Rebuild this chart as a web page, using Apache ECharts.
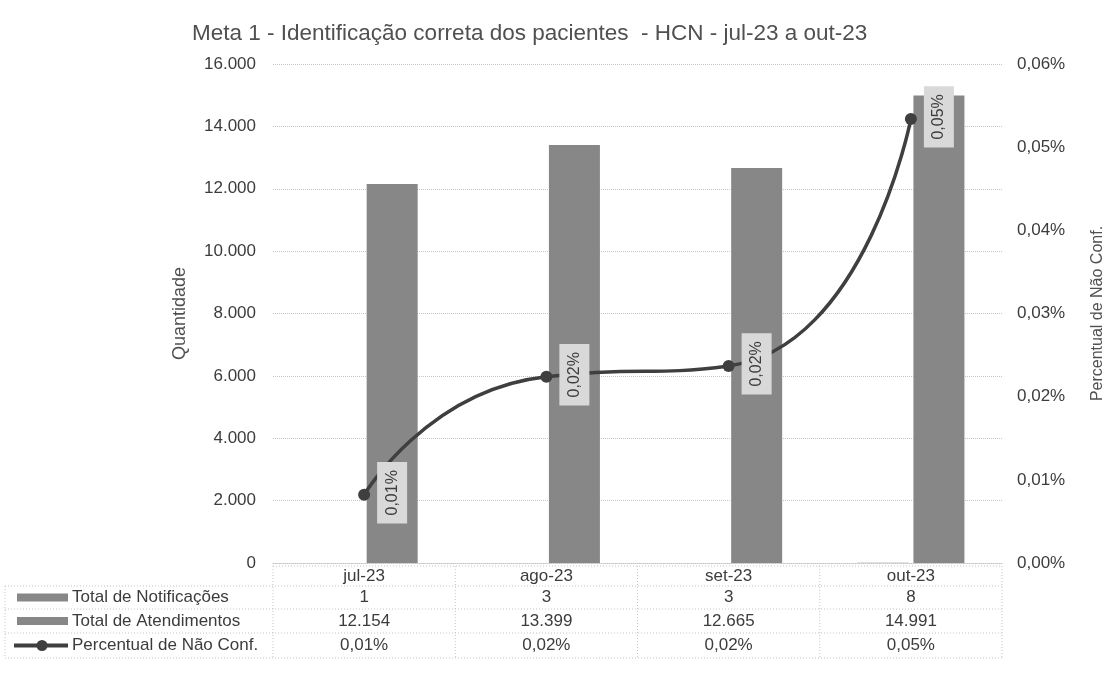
<!DOCTYPE html>
<html>
<head>
<meta charset="utf-8">
<script src="https://cdn.jsdelivr.net/npm/echarts@6/dist/echarts.min.js"></script>
<style>
html,body{margin:0;padding:0;background:#fff;}
#c{width:1114px;height:674px;}
</style>
</head>
<body>
<div id="c"></div>
<script>
const categories = ['jul-23', 'ago-23', 'set-23', 'out-23'];
const notificacoes = [1, 3, 3, 8];
const atendimentos = [12154, 13399, 12665, 14991];
const percentual = [0.0082, 0.0224, 0.0237, 0.0534];
const seriesNames = ['Total de Notificações', 'Total de Atendimentos', 'Percentual de Não Conf.'];

const FONT = 'Liberation Sans, Arial, sans-serif';
const TXT = '#3c3c3c';
const BAR = '#878787';
const LINE = '#3f3f3f';
const GRIDC = '#c4c4c4';

function fmtInt(v) { return String(v).replace(/\B(?=(\d{3})+(?!\d))/g, '.'); }
function fmtPct(v) { return v.toFixed(2).replace('.', ',') + '%'; }

const chart = echarts.init(document.getElementById('c'), null, {renderer: 'canvas'});
const option = {
  animation: false,
  backgroundColor: '#fff',
  textStyle: {fontFamily: FONT},
  title: {
    text: 'Meta 1 - Identificação correta dos pacientes  - HCN - jul-23 a out-23',
    left: 187, top: 17,
    textStyle: {fontFamily: FONT, fontSize: 22.5, fontWeight: 'normal', color: '#505050'}
  },
  grid: {left: 273, right: 110, top: 64, bottom: 111, containLabel: false},
  xAxis: {
    type: 'category', data: categories,
    axisLine: {show: true, lineStyle: {color: GRIDC, type: 'dotted'}},
    axisTick: {show: false},
    axisLabel: {fontFamily: FONT, fontSize: 17, color: TXT, margin: 5}
  },
  yAxis: [{
    type: 'value', min: 0, max: 16000, interval: 2000,
    name: 'Quantidade', nameLocation: 'middle', nameGap: 84, nameRotate: 90,
    nameTextStyle: {fontFamily: FONT, fontSize: 18, color: '#505050'},
    axisLine: {show: false}, axisTick: {show: false},
    axisLabel: {fontFamily: FONT, fontSize: 17, color: TXT, margin: 17, formatter: fmtInt},
    splitLine: {show: true, lineStyle: {color: GRIDC, type: 'dotted'}}
  }, {
    type: 'value', min: 0, max: 0.06, interval: 0.01,
    name: 'Percentual de Não Conf.', nameLocation: 'middle', nameGap: 88, nameRotate: 90,
    nameTextStyle: {fontFamily: FONT, fontSize: 16, color: '#505050'},
    axisLine: {show: false}, axisTick: {show: false},
    axisLabel: {fontFamily: FONT, fontSize: 17, color: TXT, margin: 15, formatter: fmtPct},
    splitLine: {show: false}
  }],
  series: [{
    name: seriesNames[0], type: 'bar', data: notificacoes, yAxisIndex: 0,
    barWidth: 51, barGap: '10%', itemStyle: {color: BAR}
  }, {
    name: seriesNames[1], type: 'bar', data: atendimentos, yAxisIndex: 0,
    barWidth: 51, barGap: '10%', itemStyle: {color: BAR}
  }, {
    name: seriesNames[2], type: 'line', data: percentual, yAxisIndex: 1,
    smooth: 0.6, symbol: 'circle', symbolSize: 12,
    lineStyle: {color: LINE, width: 3.5}, itemStyle: {color: LINE},
    label: {
      show: true, position: 'inside', rotate: 90, offset: [2, 28],
      formatter: p => fmtPct(p.value),
      fontFamily: FONT, fontSize: 16, color: TXT,
      backgroundColor: '#d9d9d9', padding: [7, 8]
    },
    z: 5
  }]
};
chart.setOption(option);

// Data table below the plot
const xs = categories.map((c, i) => chart.convertToPixel({xAxisIndex: 0}, i));
const step = xs.length > 1 ? xs[1] - xs[0] : 180;
const colEdges = [xs[0] - step / 2].concat(xs.map(x => x + step / 2));
const rowEdges = [566, 586, 609, 633, 658];
const leftX = 5;
const rowsVals = [notificacoes.map(fmtInt), atendimentos.map(fmtInt), percentual.map(fmtPct)];
const g = [];
const dot = {stroke: GRIDC, lineWidth: 1, lineDash: [1, 2]};
g.push({type: 'line', shape: {x1: colEdges[0], y1: rowEdges[0], x2: colEdges[4], y2: rowEdges[0]}, style: dot});
for (let r = 1; r < rowEdges.length; r++) {
  g.push({type: 'line', shape: {x1: leftX, y1: rowEdges[r], x2: colEdges[4], y2: rowEdges[r]}, style: dot});
}
colEdges.forEach((x) => {
  g.push({type: 'line', shape: {x1: x, y1: rowEdges[0], x2: x, y2: rowEdges[4]}, style: dot});
});
g.push({type: 'line', shape: {x1: leftX, y1: rowEdges[1], x2: leftX, y2: rowEdges[4]}, style: dot});
rowsVals.forEach((vals, r) => {
  const yc = (rowEdges[r + 1] + rowEdges[r + 2]) / 2;
  vals.forEach((t, i) => {
    g.push({type: 'text', x: xs[i], y: yc, style: {text: t, fontFamily: FONT, fontSize: 17, fill: TXT, align: 'center', verticalAlign: 'middle'}});
  });
  g.push({type: 'text', x: 72, y: yc, style: {text: seriesNames[r], fontFamily: FONT, fontSize: 17, fill: TXT, align: 'left', verticalAlign: 'middle'}});
  if (r < 2) {
    g.push({type: 'rect', shape: {x: 17, y: yc - 4, width: 51, height: 8}, style: {fill: BAR}});
  } else {
    g.push({type: 'line', shape: {x1: 14, y1: yc, x2: 68, y2: yc}, style: {stroke: LINE, lineWidth: 4}});
    g.push({type: 'circle', shape: {cx: 42, cy: yc, r: 5.5}, style: {fill: LINE}});
  }
});
chart.setOption({graphic: g});
</script>
</body>
</html>
